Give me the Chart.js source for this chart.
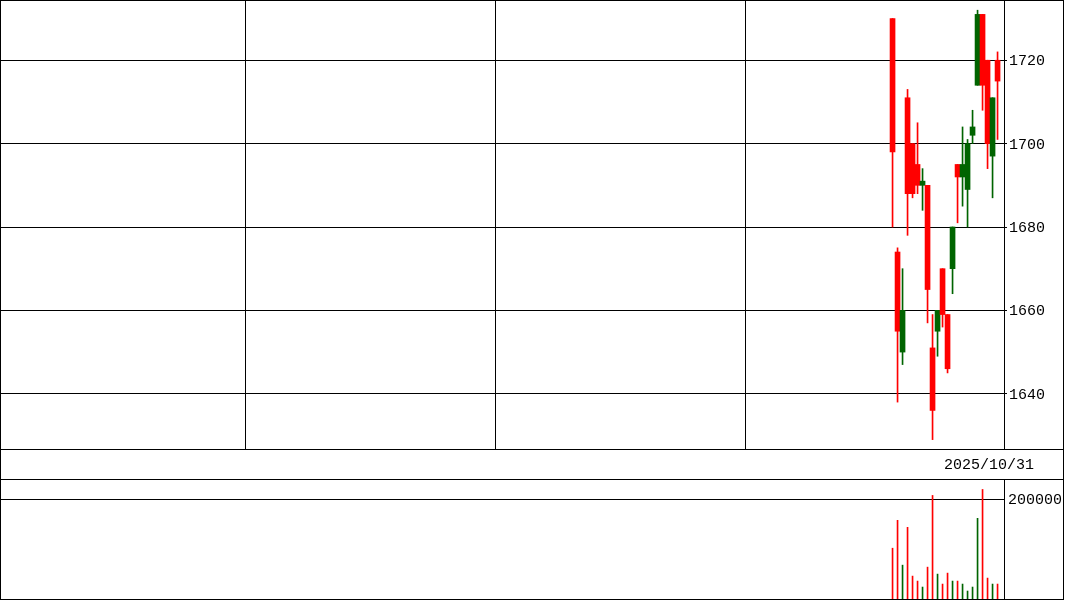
<!DOCTYPE html>
<html>
<head>
<meta charset="utf-8">
<script src="https://cdn.jsdelivr.net/npm/chart.js@4.4.1/dist/chart.umd.min.js"></script>
<style>
  html, body { margin: 0; padding: 0; background: #fff; }
  #wrap { position: relative; width: 1064px; height: 600px; box-sizing: border-box;
          border-left: 1px solid #000; border-top: 1px solid #000; border-right: 1px solid #000; border-bottom: 1px solid #000; }
  #pricebox { position: absolute; left: -1px; top: -1px; width: 1065px; height: 450px; }
  #volbox { position: absolute; left: -1px; top: 479px; width: 1065px; height: 120px; }
  #band { position: absolute; left: -1px; top: 448px; width: 1064px; height: 31px; box-sizing: border-box;
          border-top: 1px solid #000; border-bottom: 1px solid #000; }
  #date { position: absolute; left: 944px; top: 1px; height: 29px;
          font: 15px "Liberation Mono", "DejaVu Sans Mono", monospace; line-height: 29px; color: #000; white-space: nowrap; }
</style>
</head>
<body>
<div id="wrap">
  <div id="pricebox"><canvas id="price" width="1065" height="450"></canvas></div>
  <div id="band"><div id="date"></div></div>
  <div id="volbox"><canvas id="vol" width="1065" height="120"></canvas></div>
</div>
<script>
// ---- data ----
const lastDate = "2025/10/31";
const firstDay = 178;            // trading-day slot of the first candle
const opens   = [1730,1674,1650,1711,1700,1695,1690,1690,1651,1655,1670,1659,1670,1695,1692,1689,1702,1714,1731,1720,1697,1720];
const highs   = [1730,1675,1670,1713,1700,1705,1694,1690,1659,1660,1670,1659,1680,1695,1704,1701,1708,1732,1731,1720,1711,1722];
const lows    = [1680,1638,1647,1678,1687,1688,1684,1657,1629,1649,1656,1645,1664,1681,1685,1680,1700,1714,1708,1694,1687,1701];
const closes  = [1698,1655,1660,1688,1688,1690,1691,1665,1636,1660,1659,1646,1680,1692,1695,1700,1704,1731,1714,1700,1711,1715];
const volumes = [102000,158000,68000,144000,46000,36000,24000,64000,208000,50000,30000,52000,36000,36000,30000,16000,24000,162000,220000,42000,30000,30000];
const priceTicks = [1640,1660,1680,1700,1720];
const volumeTicks = [200000];
const xGridDays = [49,99,149];

// ---- styling ----
const UP = '#006400', DOWN = '#ff0000';
const FONT = { family: '"Liberation Mono", "DejaVu Sans Mono", monospace', size: 15 };
document.getElementById('date').textContent = lastDate;

const xs = opens.map((_, i) => firstDay + i + 0.5);
const colors = opens.map((o, i) => closes[i] >= o ? UP : DOWN);
const X_MIN = 0, X_MAX = 200.79;

const noPad = s => { s.paddingTop = 0; s.paddingBottom = 0; s.paddingLeft = 0; s.paddingRight = 0; };

const xScale = (showGrid) => ({
  type: 'linear', min: X_MIN, max: X_MAX, offset: false, display: showGrid,
  afterBuildTicks: s => { s.ticks = xGridDays.map(v => ({ value: v })); },
  afterFit: s => { s.height = 0; noPad(s); },
  ticks: { display: false },
  grid: { display: showGrid, offset: false, color: '#000', lineWidth: 1, drawTicks: false },
  border: { display: showGrid, color: '#000', width: 1 }
});

const yScale = (min, max, tickVals, tickLen, pad) => ({
  position: 'right', min, max,
  afterBuildTicks: s => { s.ticks = tickVals.map(v => ({ value: v })); },
  afterFit: s => { s.width = 61; noPad(s); },
  ticks: { color: '#000', font: FONT, padding: pad, labelOffset: 1, callback: v => String(v) },
  grid: { color: '#000', lineWidth: 1, drawTicks: tickLen > 0, tickLength: tickLen },
  border: { display: true, color: '#000', width: 1 }
});

new Chart(document.getElementById('price'), {
  type: 'bar',
  data: {
    datasets: [
      { data: xs.map((x, i) => ({ x, y: [lows[i], highs[i]] })), backgroundColor: colors,
        barThickness: 1, grouped: false, borderWidth: 0, order: 2 },
      { data: xs.map((x, i) => ({ x, y: [opens[i], closes[i]] })), backgroundColor: colors,
        barThickness: 5, grouped: false, borderWidth: 0, order: 1 }
    ]
  },
  options: {
    responsive: false, animation: false, devicePixelRatio: 1,
    layout: { padding: { left: 0, right: 0, top: 0, bottom: 1 } },
    plugins: { legend: { display: false }, tooltip: { enabled: false } },
    scales: {
      x: xScale(true),
      y: yScale(1626.75, 1734.45, priceTicks, 3, 2)
    }
  }
});

new Chart(document.getElementById('vol'), {
  type: 'bar',
  data: {
    datasets: [
      { data: xs.map((x, i) => ({ x, y: volumes[i] })), backgroundColor: colors,
        barThickness: 1, borderWidth: 0 }
    ]
  },
  options: {
    responsive: false, animation: false, devicePixelRatio: 1,
    layout: { padding: { left: 0, right: 0, top: 0, bottom: 1 } },
    plugins: { legend: { display: false }, tooltip: { enabled: false } },
    scales: {
      x: xScale(false),
      y: yScale(0, 239000, volumeTicks, 0, 4)
    }
  }
});
</script>
</body>
</html>
